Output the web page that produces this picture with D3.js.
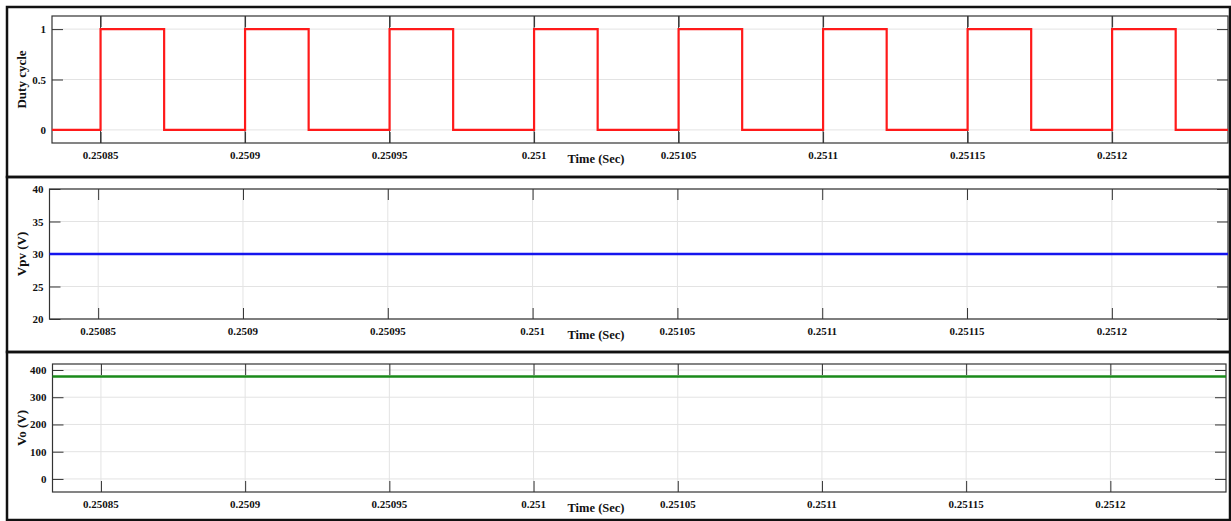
<!DOCTYPE html>
<html>
<head>
<meta charset="utf-8">
<title>Duty cycle / Vpv / Vo</title>
<script src="https://cdn.jsdelivr.net/npm/d3@7"></script>
<style>
	body { margin: 0; background: #fff; }
	text { font-family: "Liberation Serif", "Times New Roman", serif; font-weight: bold; fill: #111; }
</style>
</head>
<body>
<script>

// x axis (shared)
var timeDomain = [0.2508332, 0.2512401];
var xTicks = [0.25085, 0.2509, 0.25095, 0.251, 0.25105, 0.2511, 0.25115, 0.2512];
var xTickLabels = ["0.25085", "0.2509", "0.25095", "0.251", "0.25105", "0.2511", "0.25115", "0.2512"];

// duty cycle switching instants
var dutyRise = [0.25085, 0.2509, 0.25095, 0.251, 0.25105, 0.2511, 0.25115, 0.2512];
var dutyFall = [0.250872, 0.250922, 0.250972, 0.251022, 0.251072, 0.251122, 0.251172, 0.251222];
var dutyTicks = [0, 0.5, 1];
var dutyTickLabels = ["0", "0.5", "1"];

// PV voltage
var vpvTime = [0.2508332, 0.2512401];
var vpvValue = [30, 30];
var vpvTicks = [20, 25, 30, 35, 40];

// output voltage
var voTime = [0.2508332, 0.2512401];
var voValue = [376, 376];
var voTicks = [0, 100, 200, 300, 400];

// build step series for duty
var dutyData = [{t: timeDomain[0], v: 0}];
for (var i = 0; i < dutyRise.length; i++) {
	dutyData.push({t: dutyRise[i], v: 0});
	dutyData.push({t: dutyRise[i], v: 1});
	dutyData.push({t: dutyFall[i], v: 1});
	dutyData.push({t: dutyFall[i], v: 0});
}
dutyData.push({t: timeDomain[1], v: 0});

var panels = [
	{frame: [7, 177], left: 52, right: 1228, top: 16, bottom: 143,
		yDomain: [-0.13, 1.13], yTicks: dutyTicks, yLabels: dutyTickLabels,
		label: "Duty cycle", color: "#ff1a1a", width: 2.2, fullX: true,
		data: dutyData},
	{frame: [177, 352], left: 49.5, right: 1228, top: 189, bottom: 319,
		yDomain: [20, 40], yTicks: vpvTicks, yLabels: vpvTicks.map(String),
		label: "Vpv (V)", color: "#1515ee", width: 2.6, fullX: false,
		data: vpvTime.map(function(t, i) { return {t: t, v: vpvValue[i]}; })},
	{frame: [352, 520], left: 52.5, right: 1226, top: 364, bottom: 492,
		yDomain: [-48, 422], yTicks: voTicks, yLabels: voTicks.map(String),
		label: "Vo (V)", color: "#1a8a1a", width: 2.6, fullX: false,
		data: voTime.map(function(t, i) { return {t: t, v: voValue[i]}; })}
];

var svg = d3.select("body").append("svg")
	.attr("width", 1231)
	.attr("height", 521);

panels.forEach(function(p) {
	var x = d3.scaleLinear().domain(timeDomain).range([p.left, p.right]);
	var y = d3.scaleLinear().domain(p.yDomain).range([p.bottom, p.top]);
	var g = svg.append("g");

	// outer frame
	g.append("rect")
		.attr("x", 7).attr("y", p.frame[0])
		.attr("width", 1223).attr("height", p.frame[1] - p.frame[0])
		.attr("fill", "none").attr("stroke", "#111").attr("stroke-width", 2.5);

	// grid
	g.selectAll(".hgrid").data(p.yTicks).enter().append("line")
		.attr("x1", p.left).attr("x2", p.right)
		.attr("y1", function(d) { return y(d); }).attr("y2", function(d) { return y(d); })
		.attr("stroke", "#e3e3e3").attr("stroke-width", 1);
	g.selectAll(".vgrid").data(xTicks).enter().append("line")
		.attr("x1", function(d) { return x(d); }).attr("x2", function(d) { return x(d); })
		.attr("y1", p.top).attr("y2", p.bottom)
		.attr("stroke", p.fullX ? "#3a3a3a" : "#e3e3e3").attr("stroke-width", 1);

	// axes (ticks inward, both sides)
	var tl = 11;
	g.append("g").attr("transform", "translate(" + p.left + ",0)")
		.call(d3.axisRight(y).tickValues(p.yTicks).tickSize(tl).tickFormat(""));
	g.append("g").attr("transform", "translate(" + p.right + ",0)")
		.call(d3.axisLeft(y).tickValues(p.yTicks).tickSize(tl).tickFormat(""));
	g.append("g").attr("transform", "translate(0," + p.top + ")")
		.call(d3.axisBottom(x).tickValues(xTicks).tickSize(tl).tickFormat(""));
	g.append("g").attr("transform", "translate(0," + p.bottom + ")")
		.call(d3.axisTop(x).tickValues(xTicks).tickSize(tl).tickFormat(""));
	g.selectAll(".domain").remove();
	g.selectAll(".tick line").attr("stroke", "#333");

	// plot box
	g.append("rect")
		.attr("x", p.left).attr("y", p.top)
		.attr("width", p.right - p.left).attr("height", p.bottom - p.top)
		.attr("fill", "none").attr("stroke", "#333").attr("stroke-width", 1.2);

	// tick labels
	g.selectAll(".xl").data(xTicks).enter().append("text")
		.attr("x", function(d) { return x(d); })
		.attr("y", p.bottom + 16)
		.attr("text-anchor", "middle")
		.style("font-size", "11px")
		.text(function(d, i) { return xTickLabels[i]; });
	g.selectAll(".yl").data(p.yTicks).enter().append("text")
		.attr("x", p.left - 6)
		.attr("y", function(d) { return y(d) + 4; })
		.attr("text-anchor", "end")
		.style("font-size", "11px")
		.text(function(d, i) { return p.yLabels[i]; });

	// axis labels
	g.append("text")
		.attr("x", 596).attr("y", p.bottom + 20)
		.attr("text-anchor", "middle")
		.style("font-size", "12.5px")
		.text("Time (Sec)");
	g.append("text")
		.attr("transform", "translate(26," + ((p.top + p.bottom) / 2) + ") rotate(-90)")
		.attr("text-anchor", "middle")
		.style("font-size", "13px")
		.text(p.label);

	// series
	var line = d3.line()
		.x(function(d) { return x(d.t); })
		.y(function(d) { return y(d.v); });
	g.append("path")
		.datum(p.data)
		.attr("d", line)
		.attr("fill", "none")
		.attr("stroke", p.color)
		.attr("stroke-width", p.width)
		.attr("stroke-linejoin", "miter");
});

</script>
</body>
</html>
